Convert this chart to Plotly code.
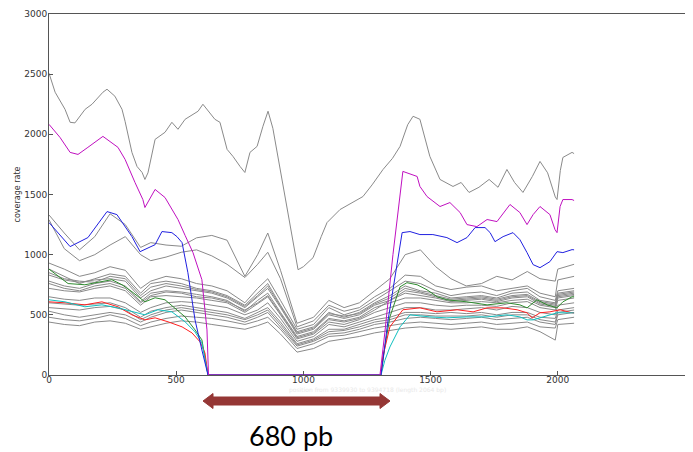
import plotly.graph_objects as go

# top gray sample (highest coverage)
top_x = [0, 24, 63, 83, 102, 142, 169, 212, 228, 259, 287, 299, 326, 346, 366, 377, 389, 417, 456, 483, 507, 535,
         586, 605, 652, 672, 700, 723, 751, 770, 790, 818, 841, 861, 880, 908, 947, 979, 1000, 1038, 1070, 1093,
         1144, 1190, 1234, 1270, 1313, 1350, 1380, 1410, 1431, 1458, 1497, 1537, 1588, 1620, 1651, 1690, 1730,
         1765, 1800, 1830, 1863, 1900, 1930, 1960, 1990, 1997, 2010, 2020, 2056, 2064]
top_y = [2508, 2350, 2208, 2100, 2095, 2208, 2250, 2350, 2375, 2317, 2208, 2108, 1850, 1733, 1683, 1625, 1680,
         1958, 2017, 2100, 2042, 2125, 2192, 2250, 2125, 2100, 1875, 1817, 1733, 1683, 1850, 1900, 2067, 2192,
         2050, 1708, 1233, 875, 900, 975, 1150, 1267, 1375, 1430, 1483, 1580, 1708, 1800, 1900, 2080, 2150, 2125,
         1817, 1625, 1567, 1600, 1517, 1560, 1625, 1560, 1708, 1600, 1517, 1650, 1775, 1680, 1480, 1458, 1700,
         1808, 1850, 1840]

# shared positions for the gray bundle
gray_x = [0, 60, 120, 180, 240, 300, 360, 400, 460, 520, 580, 640, 700, 770, 820, 860, 910, 975, 1040, 1100,
          1160, 1220, 1280, 1340, 1400, 1460, 1520, 1580, 1640, 1700, 1760, 1820, 1880, 1930, 1990, 2000, 2064]
gray_lines = [
    [1330, 1180, 1040, 1150, 1340, 1250, 1060, 1100, 1080, 1070, 1140, 1160, 1120, 820, 1000, 1180, 870, 430,
     480, 620, 560, 600, 700, 800, 1000, 1040, 900, 800, 740, 760, 820, 790, 860, 800, 780, 880, 920],
    [1290, 1050, 950, 1000, 1080, 1150, 1000, 950, 980, 1020, 1040, 990, 920, 810, 920, 1020, 800, 400,
     450, 580, 530, 560, 650, 720, 830, 820, 740, 710, 730, 740, 700, 720, 740, 680, 650, 790, 820],
    [930, 880, 820, 850, 900, 870, 720, 780, 820, 800, 760, 740, 700, 600, 720, 800, 620, 380,
     420, 560, 500, 540, 620, 700, 780, 760, 700, 660, 680, 690, 660, 700, 720, 650, 620, 700, 720],
    [880, 820, 760, 800, 840, 820, 680, 760, 780, 760, 720, 700, 660, 580, 680, 760, 580, 360,
     400, 520, 480, 520, 600, 660, 740, 700, 680, 640, 650, 660, 640, 680, 690, 620, 600, 680, 700],
    [850, 800, 780, 770, 820, 800, 660, 730, 760, 740, 710, 690, 650, 570, 660, 740, 570, 350,
     390, 510, 490, 510, 590, 640, 720, 690, 660, 630, 640, 650, 630, 660, 670, 610, 590, 670, 690],
    [830, 790, 770, 790, 800, 780, 640, 700, 740, 720, 700, 680, 640, 560, 650, 720, 560, 340,
     380, 500, 470, 500, 580, 620, 700, 680, 650, 620, 630, 640, 620, 650, 660, 600, 580, 660, 680],
    [780, 740, 720, 760, 780, 740, 610, 680, 700, 690, 670, 650, 620, 530, 620, 680, 520, 320,
     360, 470, 450, 480, 560, 600, 640, 640, 620, 600, 600, 610, 600, 620, 630, 580, 560, 640, 660],
    [760, 720, 700, 740, 760, 720, 600, 660, 690, 680, 650, 640, 610, 540, 600, 660, 510, 310,
     350, 460, 440, 470, 540, 620, 680, 660, 640, 610, 620, 630, 610, 640, 650, 590, 570, 650, 670],
    [720, 700, 690, 720, 740, 700, 580, 650, 660, 650, 640, 620, 600, 520, 590, 650, 500, 300,
     340, 440, 420, 460, 520, 560, 600, 600, 580, 570, 580, 580, 570, 600, 610, 560, 540, 620, 640],
    [650, 630, 620, 640, 640, 600, 520, 560, 600, 610, 600, 580, 560, 500, 540, 600, 470, 280,
     320, 420, 400, 440, 480, 520, 560, 560, 540, 540, 550, 560, 540, 570, 560, 520, 500, 580, 600],
    [600, 590, 580, 590, 600, 560, 480, 530, 560, 580, 560, 540, 520, 470, 520, 560, 440, 260,
     300, 380, 380, 420, 460, 480, 520, 520, 510, 520, 510, 520, 500, 520, 520, 480, 470, 540, 560],
    [560, 550, 540, 560, 570, 540, 460, 500, 540, 560, 540, 520, 500, 460, 500, 540, 420, 250,
     290, 360, 370, 400, 440, 460, 500, 500, 490, 490, 490, 500, 480, 500, 500, 460, 440, 520, 540],
    [530, 500, 480, 500, 520, 500, 440, 480, 520, 540, 520, 500, 480, 440, 480, 520, 400, 240,
     280, 340, 350, 380, 420, 440, 470, 480, 470, 460, 470, 480, 460, 470, 480, 440, 420, 500, 520],
    [480, 460, 450, 470, 500, 470, 410, 440, 470, 490, 480, 470, 450, 420, 450, 480, 380, 220,
     260, 320, 330, 360, 390, 410, 430, 440, 430, 420, 430, 440, 420, 430, 440, 400, 390, 460, 480],
    [440, 420, 410, 440, 450, 430, 380, 400, 430, 450, 440, 420, 400, 380, 410, 440, 340, 190,
     220, 280, 300, 320, 350, 370, 390, 400, 390, 380, 390, 400, 380, 380, 400, 360, 290, 420, 430],
]

# coloured samples (deleted region ~625-1305)
mag_x = [0, 43, 83, 114, 153, 212, 271, 299, 338, 369, 377, 417, 456, 483, 507, 535, 566, 601, 621, 627, 1301,
         1320, 1352, 1391, 1447, 1458, 1486, 1537, 1576, 1616, 1643, 1682, 1722, 1761, 1812, 1851, 1879, 1903,
         1930, 1969, 1989, 1997, 2009, 2020, 2056, 2064]
mag_y = [2083, 1975, 1850, 1833, 1892, 1983, 1892, 1792, 1600, 1458, 1392, 1542, 1475, 1375, 1292, 1160, 1017,
         792, 375, 0, 0, 350, 1000, 1692, 1650, 1567, 1483, 1400, 1433, 1350, 1250, 1233, 1292, 1275, 1417, 1350,
         1250, 1333, 1400, 1333, 1208, 1183, 1400, 1458, 1458, 1450]

blue_x = [0, 24, 83, 153, 228, 267, 299, 326, 358, 417, 444, 483, 503, 523, 546, 574, 601, 613, 625, 1305, 1333,
          1388, 1419, 1458, 1509, 1564, 1604, 1643, 1675, 1714, 1734, 1753, 1785, 1824, 1851, 1879, 1903, 1930,
          1969, 1997, 2020, 2056, 2064]
blue_y = [1267, 1208, 1067, 1142, 1358, 1333, 1233, 1150, 1025, 1083, 1192, 1183, 1150, 1100, 850, 458, 208, 100,
          0, 0, 458, 1183, 1192, 1167, 1167, 1142, 1100, 1142, 1225, 1225, 1183, 1108, 1150, 1183, 1125, 1017,
          917, 892, 942, 1025, 1017, 1042, 1040]

green_x = [0, 75, 141, 247, 287, 326, 377, 417, 456, 495, 535, 574, 601, 613, 625, 1305, 1320, 1340, 1380, 1407,
           1447, 1486, 1526, 1564, 1643, 1722, 1800, 1851, 1879, 1918, 1958, 1997, 2020, 2056, 2064]
green_y = [880, 760, 750, 792, 750, 692, 608, 642, 625, 558, 483, 375, 292, 150, 0, 0, 230, 483, 733, 767,
           750, 708, 650, 625, 608, 583, 600, 583, 558, 625, 583, 558, 608, 650, 650]

red_x = [0, 63, 141, 208, 271, 326, 377, 417, 468, 523, 562, 594, 613, 625, 1305, 1312, 1340, 1391, 1458, 1525,
         1604, 1667, 1722, 1785, 1840, 1879, 1899, 1930, 1969, 2009, 2056, 2064]
red_y = [608, 600, 583, 608, 567, 500, 458, 475, 442, 400, 350, 275, 183, 0, 0, 150, 400, 542, 558, 525,
         542, 525, 558, 558, 542, 517, 475, 517, 525, 542, 517, 515]

cyan_x = [0, 63, 141, 208, 271, 326, 377, 428, 483, 535, 574, 601, 625, 1305, 1320, 1340, 1380, 1419, 1497,
          1564, 1643, 1722, 1800, 1851, 1879, 1903, 1942, 1997, 2056, 2064]
cyan_y = [625, 608, 567, 583, 558, 525, 500, 542, 525, 442, 358, 267, 0, 0, 120, 233, 400, 500, 483,
          475, 483, 483, 500, 483, 458, 458, 483, 517, 517, 515]

fig = go.Figure()
fig.add_trace(go.Scatter(x=top_x, y=top_y, mode="lines", line=dict(color="#8a8a8a", width=1)))
for g in gray_lines:
    fig.add_trace(go.Scatter(x=gray_x, y=g, mode="lines", line=dict(color="#8a8a8a", width=1)))
fig.add_trace(go.Scatter(x=green_x, y=green_y, mode="lines", line=dict(color="#2e8b2e", width=1)))
fig.add_trace(go.Scatter(x=red_x, y=red_y, mode="lines", line=dict(color="#ff2020", width=1)))
fig.add_trace(go.Scatter(x=cyan_x, y=cyan_y, mode="lines", line=dict(color="#10c0c0", width=1)))
fig.add_trace(go.Scatter(x=blue_x, y=blue_y, mode="lines", line=dict(color="#2020e0", width=1)))
fig.add_trace(go.Scatter(x=mag_x, y=mag_y, mode="lines", line=dict(color="#c010c0", width=1)))

axis_style = dict(showgrid=False, zeroline=False, showline=True, mirror=True, linecolor="#555555",
                  linewidth=1, ticks="inside", ticklen=4, tickcolor="#555555", automargin=False,
                  tickfont=dict(family="DejaVu Sans", size=9, color="#333333"))
fig.update_xaxes(range=[0, 2500], tickvals=[0, 500, 1000, 1500, 2000, 2500], ticklabelstandoff=-4,
                 **axis_style)
fig.update_yaxes(range=[0, 3000], tickvals=[0, 500, 1000, 1500, 2000, 2500, 3000], ticklabelstandoff=-1,
                 title=dict(text="coverage rate", font=dict(family="DejaVu Sans", size=8, color="#333333"),
                            standoff=2), **axis_style)

# double arrow showing the deleted span (paper coords, plot area 636 x 361 px)
L, R = (203 - 49) / 636, (390 - 49) / 636
hl = 10 / 636
yc, sh, hh = -26 / 361, 4 / 361, 7.5 / 361
path = (f"M {L},{yc} L {L+hl},{yc+hh} L {L+hl},{yc+sh} L {R-hl},{yc+sh} L {R-hl},{yc+hh} L {R},{yc} "
        f"L {R-hl},{yc-hh} L {R-hl},{yc-sh} L {L+hl},{yc-sh} L {L+hl},{yc-hh} Z")
fig.add_shape(type="path", path=path, xref="paper", yref="paper", fillcolor="#953735",
              line=dict(color="#953735", width=1))

fig.add_annotation(text="position from 9339930 to 9394718 (length 2064 bp)", xref="paper", yref="paper",
                   x=0.5, y=-15 / 361, yanchor="middle", showarrow=False,
                   font=dict(family="DejaVu Sans", size=6, color="#e8e8e8"))
fig.add_annotation(text="680 pb", xref="paper", yref="paper", x=(291 - 49) / 636, y=-60 / 361,
                   yanchor="middle", showarrow=False, font=dict(family="Lato", size=27, color="black"))

# the page body adds an 8px offset, so the figure is sized to fill the rest of the window
fig.update_layout(width=685, height=444, margin=dict(l=41, r=8, t=6, b=77),
                  plot_bgcolor="white", paper_bgcolor="white", showlegend=False, hovermode=False)
fig.write_html("out.html")
